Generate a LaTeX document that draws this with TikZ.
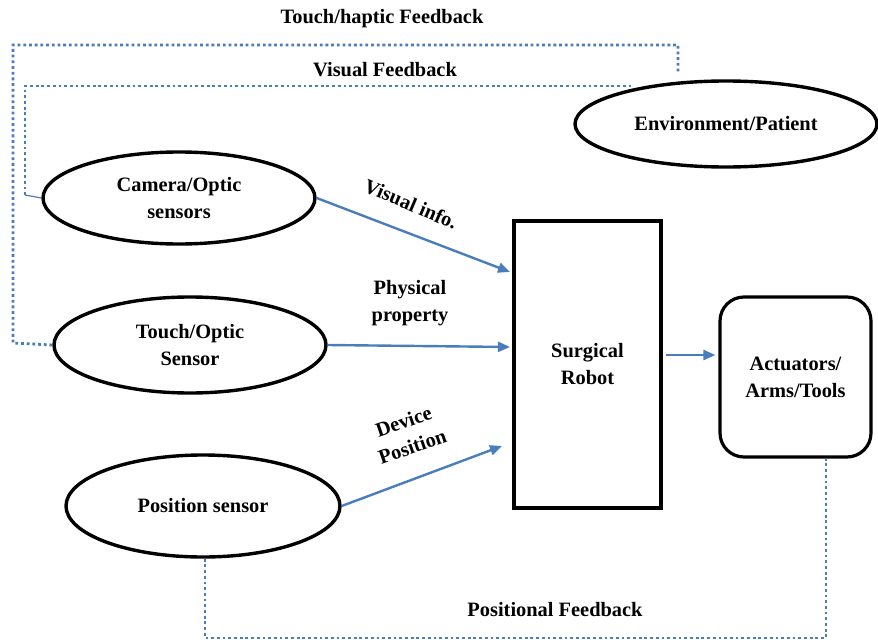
\documentclass[tikz,border=0pt]{standalone}
\usepackage{fontspec}
\setmainfont{Liberation Serif}
\usetikzlibrary{arrows.meta,shapes.geometric}
\definecolor{linkblue}{HTML}{4A7EBB}
\begin{document}
\begin{tikzpicture}[x=1pt,y=-1pt,
  lbl/.style={font=\bfseries\fontsize{20.4}{27}\selectfont,align=center,inner sep=0},
  oval/.style={ellipse,draw,line width=3.4pt,inner sep=0,lbl},
  flow/.style={draw=linkblue,line width=2.4pt,-{Triangle[length=12pt,width=10pt]}},
  fb/.style={draw=linkblue,line width=2.8pt,dash pattern=on 2.8pt off 2.9pt}]
\useasboundingbox (0,0) rectangle (878,642);

% sensor ovals
\node[oval,minimum width=272pt,minimum height=92pt] (cam) at (179,198) {Camera/Optic\\sensors};
\node[oval,minimum width=272pt,minimum height=96pt] (touch) at (190,345) {Touch/Optic\\Sensor};
\node[oval,minimum width=274pt,minimum height=102pt] (pos) at (203,506) {Position sensor};
\node[oval,minimum width=302pt,minimum height=86pt] (env) at (726,124) {Environment/Patient};

% robot and its tools
\node[draw,line width=3.2pt,minimum width=147pt,minimum height=287pt,lbl] (robot) at (587.5,364.5) {Surgical\\Robot};
\node[draw,line width=3.2pt,rounded corners=24pt,minimum width=151pt,minimum height=160pt,lbl] (act) at (795.5,377) {Actuators/\\Arms/Tools};

% information flow
\coordinate (r1) at (510,272);
\coordinate (r2) at (510,347);
\coordinate (r3) at (502,446);
\draw[flow] (cam.east) -- (r1);
\draw[flow] (touch.east) -- (r2);
\draw[flow] (pos.east) -- (r3);
\draw[flow] ([xshift=3pt]robot.east |- 0,355) -- ([xshift=-3pt]act.west |- 0,355);

\node[lbl,rotate=-23] (lv) at (411,204) {Visual info.};
\node[lbl] (lp) at (410,303) {Physical\\property};
\node[lbl,rotate=19] (ld) at (408,434) {Device\\Position};

% feedback loops
\coordinate (t1) at (13,343);
\coordinate (t2) at (13,45);
\coordinate (t3) at (678,45);
\coordinate (t4) at (678,73);
\draw[fb] (touch.west) -- (t1) -- (t2) -- (t3) -- (t4);

\coordinate (v0) at (25,195);
\coordinate (v1) at (25,86);
\coordinate (v2) at (632,86);
\draw[linkblue,line width=1.2pt] (cam.west) -- (v0);
\draw[fb] (v0) -- (v1) -- (v2);

\coordinate (p1) at (205,638);
\coordinate (p2) at (826,638);
\draw[fb] (pos.south -| p1) -- (p1) -- (p2) -- (act.south -| p2);

\node[lbl] (tf) at (382,19) {Touch/haptic Feedback};
\node[lbl] (vf) at (385,70) {Visual Feedback};
\node[lbl] (pf) at (555,610) {Positional Feedback};
\end{tikzpicture}
\end{document}
